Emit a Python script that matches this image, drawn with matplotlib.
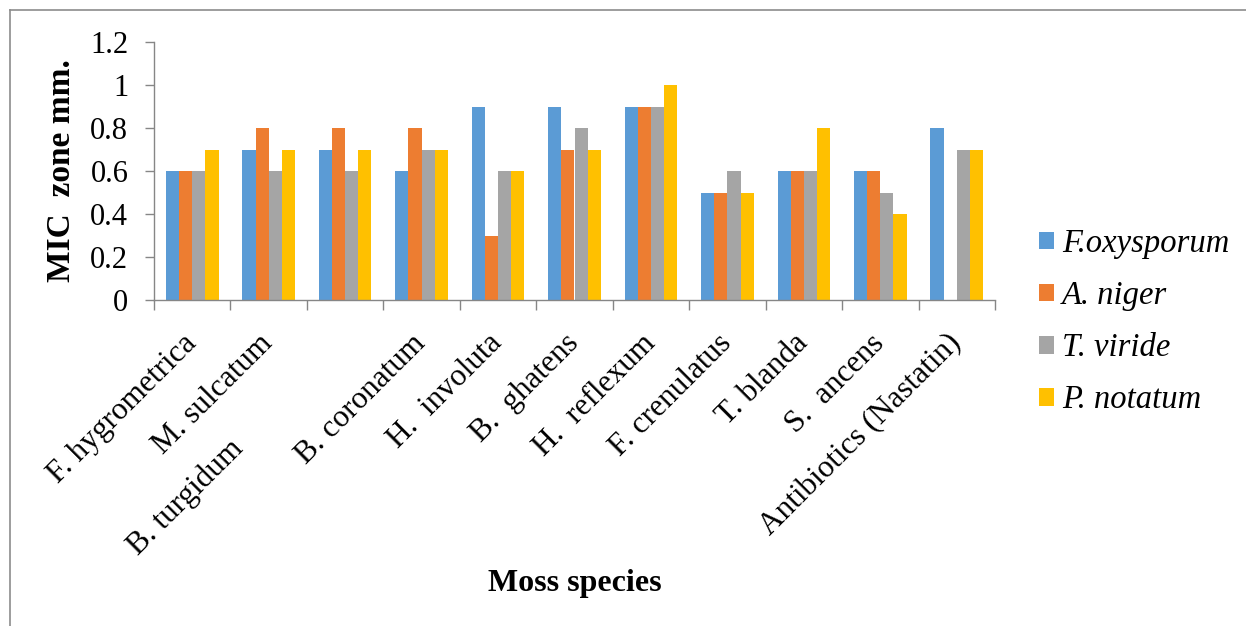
import matplotlib
matplotlib.use("Agg")
import matplotlib.pyplot as plt
import numpy as np
from matplotlib.lines import Line2D
from matplotlib import font_manager as fm

categories = ["F. hygrometrica", "M. sulcatum", "B. turgidum", "B. coronatum",
              "H.  involuta", "B.  ghatens", "H.  reflexum", "F. crenulatus",
              "T. blanda", "S.  ancens", "Antibiotics (Nastatin)"]
series_names = ["F.oxysporum", "A. niger", "T. viride", "P. notatum"]
f_oxysporum = [0.6, 0.7, 0.7, 0.6, 0.9, 0.9, 0.9, 0.5, 0.6, 0.6, 0.8]
a_niger     = [0.6, 0.8, 0.8, 0.8, 0.3, 0.7, 0.9, 0.5, 0.6, 0.6, 0.0]
t_viride    = [0.6, 0.6, 0.6, 0.7, 0.6, 0.8, 0.9, 0.6, 0.6, 0.5, 0.7]
p_notatum   = [0.7, 0.7, 0.7, 0.7, 0.6, 0.7, 1.0, 0.5, 0.8, 0.4, 0.7]
yticks = [0, 0.2, 0.4, 0.6, 0.8, 1, 1.2]
ytick_labels = ["0", "0.2", "0.4", "0.6", "0.8", "1", "1.2"]

colors = ["#5B9BD5", "#ED7D31", "#A5A5A5", "#FFC000"]
serif = ["Liberation Serif", "DejaVu Serif"]
plt.rcParams["font.family"] = serif

# find a real italic serif face if available
italic_file = None
for f in fm.fontManager.ttflist:
    if f.name == "Liberation Serif" and f.style == "italic" and f.weight in (400, "normal", "regular"):
        italic_file = f.fname
        break
if italic_file:
    legend_prop = fm.FontProperties(fname=italic_file, size=23.5)
else:
    legend_prop = fm.FontProperties(family=serif, style="italic", size=23.5)

W, H = 1246, 626
fig = plt.figure(figsize=(W / 100, H / 100), dpi=100)
ax = fig.add_axes([154 / W, 1 - 300 / H, (995 - 154) / W, (300 - 42) / H])

x = np.arange(len(categories))
bw = 0.172
data = [f_oxysporum, a_niger, t_viride, p_notatum]
for i, (vals, name, c) in enumerate(zip(data, series_names, colors)):
    ax.bar(x + (i - 1.5) * bw, vals, width=bw, color=c, label=name, zorder=2)

ax.set_xlim(-0.5, len(categories) - 0.5)
ax.set_ylim(0, 1.2)
ax.set_yticks(yticks)
ax.set_yticklabels(ytick_labels, fontsize=22)
ax.tick_params(axis="y", length=6.5, width=1, color="#868686", pad=12, direction="out")

# category boundaries as major ticks, labels on minor ticks at centers
ax.set_xticks(np.arange(len(categories) + 1) - 0.5)
ax.set_xticklabels([])
ax.tick_params(axis="x", which="major", length=7, width=1, color="#868686", direction="out")
ax.set_xticks(x, minor=True)
labels = list(categories)
labels[2] = labels[2] + " " * 19
ax.set_xticklabels(labels, minor=True, rotation=45, ha="right", va="center",
                   rotation_mode="anchor", fontsize=22.5)
ax.tick_params(axis="x", which="minor", length=0, pad=28)

for s in ["top", "right"]:
    ax.spines[s].set_visible(False)
for s in ["left", "bottom"]:
    ax.spines[s].set_color("#868686")
    ax.spines[s].set_linewidth(1)

ax.set_ylabel("MIC  zone mm.", fontsize=24, fontweight="bold")
ax.yaxis.set_label_coords(-77 / (995 - 154), 0.5)
fig.text(575 / W, 1 - 583 / H, "Moss species", fontsize=23, fontweight="bold",
         ha="center", va="center")

leg = fig.legend(loc="center left", bbox_to_anchor=(1039 / W, 1 - 322 / H),
                 frameon=False, prop=legend_prop,
                 handlelength=0.46, handleheight=0.46, handletextpad=0.25,
                 labelspacing=0.66, borderpad=0, borderaxespad=0)

# outer frame (top and left edges visible)
fig.add_artist(Line2D([9.5 / W, 9.5 / W], [0, 1 - 9.5 / H], transform=fig.transFigure,
                      color="#8c8c8c", linewidth=1.2))
fig.add_artist(Line2D([9.5 / W, 1], [1 - 9.5 / H, 1 - 9.5 / H], transform=fig.transFigure,
                      color="#8c8c8c", linewidth=1.2))

fig.savefig("out.png", dpi=100)
